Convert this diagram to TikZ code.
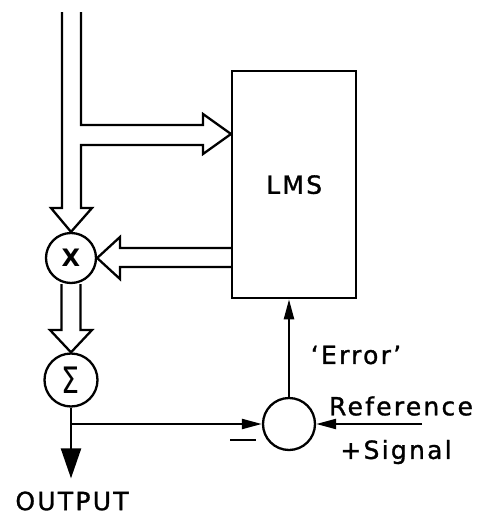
\documentclass[tikz,border=0pt]{standalone}
\usepackage{fontspec}
\setmainfont{DejaVu Sans}
\newfontfamily\stencil[LetterSpace=9, FakeBold=1.2]{DejaVu Sans}
\usetikzlibrary{arrows.meta, positioning, calc}

\begin{document}
\begin{tikzpicture}[x=1pt, y=-1pt, line width=2.3pt,
    junction/.style={draw, circle, minimum size=#1, inner sep=0pt, font=\fontsize{24}{24}\selectfont\bfseries},
    junction/.default=50pt,
    block/.style={draw, minimum width=124pt, minimum height=227pt, anchor=north west, font=\fontsize{25}{25}\selectfont\stencil},
    lbl/.style={font=\fontsize{25}{25}\selectfont\stencil, inner sep=0pt},
    fat/.style={line join=miter},
    feed/.style={-{Triangle[length=20pt, width=10pt]}},
]
    \useasboundingbox (0,0) rectangle (486,520);

    \node[block] (lms) at (231,70) {LMS};
    \node[junction] (mul) at (71,258) {X};
    \node[junction=53pt] (sum) at (71,380) {\scalebox{1.1}[1.4]{\fontsize{26}{26}\selectfont\mdseries Σ}};
    \node[junction=52pt] (cmp) at (289,424) {};

    \node[lbl] (out) at (72,501) {OUTPUT};
    \node[lbl] (err) at (356,355) {‘Error’};
    \node[lbl] (ref) at (401,406) {Reference};
    \node[lbl] (sig) at (396,452) {+Signal};
    \node[inner sep=0pt] (minus) at (243,440) {\rule{26pt}{2.8pt}};

    \coordinate (tap) at (sum.south |- cmp);
    \coordinate (refin) at (422,424);

    \draw[fat] (62,12) -- (62,208) -- (51,208) -- (mul.north) -- (92,208) -- (81,208)
        -- (81,145) -- (203,145) -- (203,154) -- (lms.west |- 0,134) -- (203,114)
        -- (203,125) -- (81,125) -- (81,12);
    \draw[fat] (lms.west |- 0,248) -- (120,248) -- (120,237) -- (mul.east)
        -- (120,279) -- (120,267) -- (lms.west |- 0,267);
    \draw[fat] ([xshift=-9.5pt]mul.south) -- (61.5,330) -- (50,330) -- (sum.north)
        -- (92,330) -- (80.5,330) -- ([xshift=9.5pt]mul.south);

    \draw (sum) -- (tap);
    \draw[-{Triangle[length=30pt, width=20pt]}] (tap) -- (tap |- out.north) [shorten >=12pt];
    \draw[feed] (tap) -- (cmp);
    \draw[feed] (refin) -- (cmp);
    \draw[feed] (cmp) -- (cmp |- lms.south);
\end{tikzpicture}
\end{document}
